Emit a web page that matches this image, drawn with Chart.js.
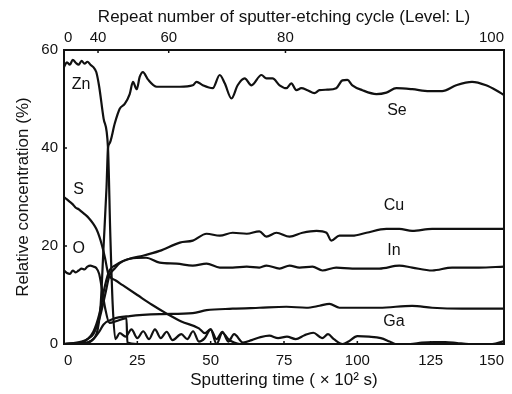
<!DOCTYPE html>
<html>
<head>
<meta charset="utf-8">
<script src="https://cdn.jsdelivr.net/npm/chart.js@4/dist/chart.umd.min.js"></script>
<style>
  html, body { margin: 0; padding: 0; background: #fff; }
  #wrap { width: 512px; height: 394px; }
</style>
</head>
<body>
<div id="wrap"><canvas id="chart" width="512" height="394"></canvas></div>
<script>
// sputtering time (x10^2 s), relative concentration (%)
const zn = [[0,56.5],[1,57.5],[2,57],[3,58],[4,57.4],[5,57],[6,57.8],[7,57.2],[8,57.6],[9,57],[10,56.5],[11,55.5],[12,52.5],[13.5,46],[15,40],[15.8,22],[16.6,8],[17.5,1],[19,2.2],[21,1.5],[23,3],[25,1.2],[27,2.6],[29,1],[31,3],[33,1.2],[35,2.5],[37,0.8],[40,2],[42,1],[44,2.6],[46,0.5],[48,1.2],[50,3],[52,0],[54,2.3],[56,1],[58,0.3],[60,0],[80,0],[100,0],[150,0]];
const se = [[0,0],[5,0],[8,0.3],[10,1],[11.5,3],[12.5,8],[13.5,20],[14.5,32],[15,40],[15.6,41],[17.3,45],[19,48],[20.7,49],[22.4,51],[23.5,53.5],[24.8,52],[25.8,54.5],[26.9,55.5],[28.6,54],[31.6,52.5],[36.1,52.5],[39.5,52.5],[43.9,52.8],[45.2,53.5],[47.3,52.8],[50.7,52.2],[53.1,54.9],[54.8,53.2],[57.1,50.1],[59.2,52.8],[61.6,54.2],[63.9,52.8],[67.3,54.9],[69,54.2],[71.1,54.2],[73.5,52.8],[75.8,52.2],[77.5,53.2],[79.2,51.8],[80.9,52.2],[83,51.8],[85.4,51.2],[87.1,51.8],[89.8,51.9],[92.8,52.2],[94.9,53.8],[96.6,53.9],[98.3,52.8],[101.7,51.8],[106.5,51],[109.9,51.3],[113.3,52.2],[118.7,52],[124.5,51.6],[128.9,51.6],[133.7,52.8],[139.1,53.5],[143.9,52.8],[147.3,51.8],[150,50.8]];
const s = [[0,30],[1,29.5],[2,29],[3,28.5],[4,27.8],[5,27.5],[6,27],[7,26.5],[8,26],[9,25.3],[10,24.5],[11,23.5],[12,22],[13,20],[14,17.5],[15,14.5],[16,13.5],[17.5,13],[20,12],[25,10],[30,8],[35,6.2],[40,4.6],[46,3.2],[48,2.2],[50,3],[52,1],[54,2.5],[56,0.5],[58,2],[61,0.3],[64,0.8],[67,1.4],[70,1.7],[73,1.2],[76,1.5],[79,1],[82,1.8],[85,2.3],[88,1.2],[90,2],[92,1],[95,0],[97,0.5],[100,1.6],[104,1.5],[108,1.2],[111,0.5],[113,0],[118,0],[122,0.3],[126,0.4],[130,0.4],[134,0.2],[138,0],[146,0],[150,0.6]];
const o = [[0,15],[1,14.5],[2,14.3],[3,15],[4,14.6],[5,15],[6,15.4],[7,15.2],[8,15.8],[9,16],[10,15.8],[11,15.5],[12,14.3],[13,11],[14,7.4],[15.5,4.3],[18,4.7],[21.3,5.3],[21.6,0.3],[25,0],[50,0],[100,0],[150,0]];
const cu = [[0,0],[6,0.5],[8,1],[10,2],[12,5],[14,10],[15.5,14],[17.3,15.4],[19,16.5],[22.4,17.4],[26.9,18],[32.6,19],[39.5,20.7],[43.9,21.1],[48.6,22.5],[53.1,22.1],[57.5,22.7],[62.3,22.5],[66.6,23],[69,21.9],[72.4,22.7],[76.9,21.9],[81.3,22.7],[86.1,23.1],[89.5,22.7],[91.1,21.1],[93.9,22.1],[98.3,22.1],[103.1,22.7],[109.9,23.5],[114.3,23.5],[118.7,23.1],[125.5,23.5],[132.3,23.5],[141.5,23.5],[150,23.5]];
const inn = [[0,0],[6,0.3],[8,1],[10,2.5],[12,6],[14,12],[15.5,15],[17.3,16],[22.4,17.4],[28,17.6],[32.6,16.6],[38.4,16.4],[43.9,16],[48.6,16.4],[53.1,15.6],[57.5,15.6],[62.3,15.8],[66.6,15.6],[69,16],[73.5,15.4],[76.9,16],[80.3,15.6],[84.7,15.8],[88.1,15],[92.8,15.6],[98.3,15.4],[107.5,15.4],[114.3,16],[118.7,15.6],[125.5,15],[132.3,15.6],[141.5,15.6],[150,15.8]];
const ga = [[0,0],[8,0.3],[10,1],[12,2.5],[13.5,4],[16.7,5.1],[22.4,5.7],[32.6,6.1],[43.9,6.3],[48.6,6.9],[57.5,7.2],[66.6,7.4],[75.8,7.6],[82.6,7.4],[87.1,7.8],[90.5,8.2],[93.9,7.4],[107.5,7.4],[118.7,7.8],[125.5,7.4],[135.7,7.2],[150,7.2]];

const seriesNames = ['Zn', 'Se', 'S', 'O', 'Cu', 'In', 'Ga'];
const seriesData = [zn, se, s, o, cu, inn, ga];

const bottomTicks = [0, 25, 50, 75, 100, 125, 150];
const yTicks = [0, 20, 40, 60];
// repeat number of sputter-etching cycle, placed on the time axis
const topTickPos = [0, 11.6, 35.7, 75.5, 150];
const topTickLabels = ['0', '40', '60', '80', '100'];

const INK = '#111';
const FONT = '"Liberation Sans", Arial, sans-serif';

const labelPlugin = {
  id: 'labels',
  afterDatasetsDraw(chart, args, opts) {
    const ctx = chart.ctx;
    const xs = chart.scales.x, ys = chart.scales.y;
    ctx.save();
    ctx.fillStyle = INK;
    ctx.font = '16px ' + FONT;
    ctx.textAlign = 'center';
    ctx.textBaseline = 'middle';
    opts.items.forEach(it => {
      ctx.fillText(it.text, xs.getPixelForValue(it.x), ys.getPixelForValue(it.y));
    });
    ctx.restore();
  }
};

const framePlugin = {
  id: 'frame',
  afterDraw(chart) {
    const ctx = chart.ctx;
    const a = chart.chartArea;
    ctx.save();
    ctx.strokeStyle = INK;
    ctx.lineWidth = 2;
    ctx.strokeRect(a.left, a.top, a.right - a.left, a.bottom - a.top);
    ctx.lineWidth = 1.5;
    ctx.beginPath();
    const xb = chart.scales.x, xt = chart.scales.x2, yl = chart.scales.y;
    xb.ticks.forEach(t => {
      const p = xb.getPixelForValue(t.value);
      ctx.moveTo(p, a.bottom); ctx.lineTo(p, a.bottom - 3);
    });
    xt.ticks.forEach(t => {
      const p = xt.getPixelForValue(t.value);
      ctx.moveTo(p, a.top); ctx.lineTo(p, a.top + 3);
    });
    yl.ticks.forEach(t => {
      const p = yl.getPixelForValue(t.value);
      ctx.moveTo(a.left, p); ctx.lineTo(a.left + 3, p);
    });
    ctx.stroke();
    ctx.restore();
  }
};

const tickFont = { family: FONT, size: 15 };
const titleFont = { family: FONT, size: 17 };

new Chart(document.getElementById('chart'), {
  type: 'line',
  data: {
    datasets: seriesData.map((d, i) => ({
      label: seriesNames[i],
      data: d.map(p => ({ x: p[0], y: p[1] })),
      borderColor: INK,
      borderWidth: 2.2,
      pointRadius: 0,
      cubicInterpolationMode: 'monotone',
      fill: false
    }))
  },
  options: {
    responsive: false,
    animation: false,
    layout: { padding: { left: 0, right: 7, top: 0, bottom: 0 } },
    plugins: {
      legend: { display: false },
      tooltip: { enabled: false },
      labels: {
        items: [
          { text: 'Zn', x: 5.8, y: 52.9 },
          { text: 'S', x: 5.0, y: 31.5 },
          { text: 'O', x: 5.0, y: 19.5 },
          { text: 'Se', x: 113.5, y: 47.6 },
          { text: 'Cu', x: 112.5, y: 28.3 },
          { text: 'In', x: 112.5, y: 19.0 },
          { text: 'Ga', x: 112.5, y: 4.6 }
        ]
      }
    },
    scales: {
      x: {
        type: 'linear', position: 'bottom', min: 0, max: 150,
        afterBuildTicks: sc => { sc.ticks = bottomTicks.map(v => ({ value: v })); },
        afterFit: sc => { sc.height = 50; },
        grid: { display: false, drawTicks: false },
        border: { display: false },
        ticks: { color: INK, font: tickFont, align: 'inner', padding: 8, maxRotation: 0 },
        title: { display: true, text: 'Sputtering time ( × 10² s)', color: INK, font: titleFont, padding: { top: 0, bottom: 3 } }
      },
      x2: {
        type: 'linear', position: 'top', min: 0, max: 150,
        afterBuildTicks: sc => { sc.ticks = topTickPos.map(v => ({ value: v })); },
        afterFit: sc => { sc.height = 50; },
        grid: { display: false, drawTicks: false },
        border: { display: false },
        ticks: { color: INK, font: tickFont, align: 'inner', padding: 3, maxRotation: 0,
                 callback: (v, i) => topTickLabels[i] },
        title: { display: true, text: 'Repeat number of sputter-etching cycle (Level: L)', color: INK, font: titleFont, padding: { top: 7, bottom: 0 } }
      },
      y: {
        type: 'linear', min: 0, max: 60,
        afterBuildTicks: sc => { sc.ticks = yTicks.map(v => ({ value: v })); },
        afterFit: sc => { sc.width = 64; },
        grid: { display: false, drawTicks: false },
        border: { display: false },
        ticks: { color: INK, font: tickFont, padding: 6 },
        title: { display: true, text: 'Relative concentration (%)', color: INK, font: titleFont, padding: { top: 13, bottom: 0 } }
      }
    }
  },
  plugins: [labelPlugin, framePlugin]
});
</script>
</body>
</html>
